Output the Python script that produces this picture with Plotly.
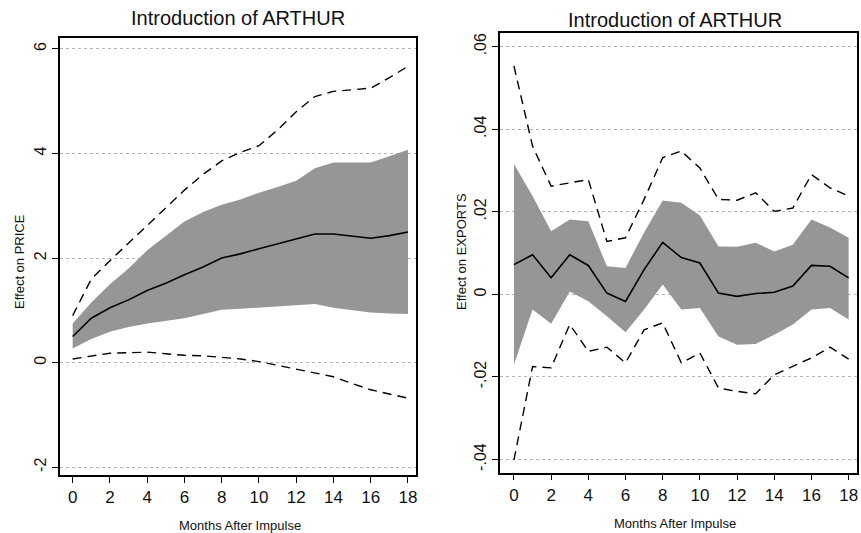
import plotly.graph_objects as go

months = list(range(19))

# Left panel: Effect on PRICE
price_mean = [0.5, 0.85, 1.05, 1.2, 1.38, 1.52, 1.68, 1.83, 2.0, 2.08, 2.18, 2.27, 2.36, 2.46, 2.46, 2.42, 2.38, 2.43, 2.5]
price_band_hi = [0.75, 1.15, 1.5, 1.8, 2.15, 2.42, 2.7, 2.88, 3.02, 3.12, 3.25, 3.36, 3.48, 3.72, 3.83, 3.83, 3.83, 3.95, 4.07]
price_band_lo = [0.27, 0.45, 0.59, 0.68, 0.75, 0.8, 0.85, 0.93, 1.01, 1.03, 1.05, 1.08, 1.1, 1.12, 1.05, 1.0, 0.96, 0.94, 0.93]
price_ci_hi = [0.9, 1.6, 1.95, 2.28, 2.62, 2.96, 3.3, 3.6, 3.86, 4.02, 4.15, 4.45, 4.8, 5.09, 5.19, 5.22, 5.25, 5.45, 5.67]
price_ci_lo = [0.07, 0.13, 0.18, 0.19, 0.2, 0.17, 0.14, 0.13, 0.1, 0.07, 0.02, -0.05, -0.12, -0.19, -0.27, -0.4, -0.52, -0.6, -0.68]

# Right panel: Effect on EXPORTS
exp_mean = [0.0072, 0.0096, 0.004, 0.0096, 0.007, 0.0003, -0.0017, 0.006, 0.0126, 0.0089, 0.0076, 0.0003, -0.0005, 0.0002, 0.0005, 0.002, 0.007, 0.0068, 0.004]
exp_band_hi = [0.0316, 0.0238, 0.0153, 0.0181, 0.0177, 0.0068, 0.0064, 0.015, 0.0227, 0.0222, 0.0191, 0.0116, 0.0115, 0.0125, 0.0104, 0.012, 0.0181, 0.0162, 0.0137]
exp_band_lo = [-0.017, -0.0037, -0.0071, 0.0007, -0.0017, -0.0053, -0.0092, -0.0037, 0.0024, -0.0037, -0.0033, -0.0102, -0.0122, -0.012, -0.0098, -0.0073, -0.0037, -0.0033, -0.0061]
exp_ci_hi = [0.0553, 0.0359, 0.0262, 0.027, 0.0278, 0.0128, 0.0137, 0.023, 0.0331, 0.0347, 0.0306, 0.023, 0.0228, 0.0246, 0.0201, 0.0209, 0.029, 0.0258, 0.0238]
exp_ci_lo = [-0.0401, -0.0175, -0.0178, -0.0073, -0.0138, -0.0128, -0.0166, -0.0086, -0.0069, -0.0166, -0.0142, -0.0227, -0.0235, -0.0241, -0.0195, -0.0175, -0.0154, -0.0128, -0.0157]

x_ticks = [0, 2, 4, 6, 8, 10, 12, 14, 16, 18]
price_ticks = [-2, 0, 2, 4, 6]
price_tick_labels = ["-2", "0", "2", "4", "6"]
exp_ticks = [-0.04, -0.02, 0, 0.02, 0.04, 0.06]
exp_tick_labels = ["-.04", "-.02", "0", ".02", ".04", ".06"]

title_text = "Introduction of ARTHUR"
xtitle = "Months After Impulse"

FONT = "Liberation Sans, Arial, sans-serif"
BAND = "rgb(150,150,150)"
TXT = "#111"

fig = go.Figure()

def add_panel(xa, ya, mean, bhi, blo, chi, clo):
    fig.add_trace(go.Scatter(x=months, y=blo, mode="lines", line=dict(width=0, color=BAND),
                             xaxis=xa, yaxis=ya, showlegend=False, hoverinfo="skip"))
    fig.add_trace(go.Scatter(x=months, y=bhi, mode="lines", line=dict(width=0, color=BAND),
                             fill="tonexty", fillcolor=BAND, xaxis=xa, yaxis=ya, showlegend=False))
    fig.add_trace(go.Scatter(x=months, y=chi, mode="lines", line=dict(color="black", width=1.4, dash="9px,6px"),
                             xaxis=xa, yaxis=ya, showlegend=False))
    fig.add_trace(go.Scatter(x=months, y=clo, mode="lines", line=dict(color="black", width=1.4, dash="9px,6px"),
                             xaxis=xa, yaxis=ya, showlegend=False))
    fig.add_trace(go.Scatter(x=months, y=mean, mode="lines", line=dict(color="black", width=1.6),
                             xaxis=xa, yaxis=ya, showlegend=False))

add_panel("x", "y", price_mean, price_band_hi, price_band_lo, price_ci_hi, price_ci_lo)
add_panel("x2", "y2", exp_mean, exp_band_hi, exp_band_lo, exp_ci_hi, exp_ci_lo)

W, H = 861, 533
common_x = dict(tickmode="array", tickvals=x_ticks, ticks="outside", ticklen=6, tickwidth=1.2,
                tickcolor="black", showgrid=False, zeroline=False, showline=True, linecolor="black",
                linewidth=1.5, mirror=True, tickfont=dict(family=FONT, size=17, color=TXT))
common_y = dict(tickmode="array", ticks="outside", ticklen=6, tickwidth=1.2, tickcolor="black",
                showgrid=True, gridcolor="#b5b5b5", griddash="dot", gridwidth=1, zeroline=False,
                showline=True, linecolor="black", linewidth=1.5, mirror=True, tickangle=-90,
                tickfont=dict(family=FONT, size=16, color=TXT))

fig.update_layout(
    width=W, height=H,
    margin=dict(l=0, r=0, t=0, b=0),
    paper_bgcolor="white", plot_bgcolor="white",
    xaxis=dict(domain=[60 / W, 416 / W], range=[-0.68, 18.43], anchor="y", **common_x),
    yaxis=dict(domain=[1 - 475 / H, 1 - 38 / H], range=[-2.15, 6.21], anchor="x",
               tickvals=price_ticks, ticktext=price_tick_labels, **common_y),
    xaxis2=dict(domain=[500 / W, 857 / W], range=[-0.75, 18.45], anchor="y2", **common_x),
    yaxis2=dict(domain=[1 - 472.7 / H, 1 - 33 / H], range=[-0.0432, 0.0633], anchor="x2",
                tickvals=exp_ticks, ticktext=exp_tick_labels, **common_y),
    annotations=[
        dict(text=title_text, x=238 / W, y=1 - 18 / H, xref="paper", yref="paper", showarrow=False,
             font=dict(family=FONT, size=20, color=TXT), xanchor="center", yanchor="middle"),
        dict(text=title_text, x=675 / W, y=1 - 20 / H, xref="paper", yref="paper", showarrow=False,
             font=dict(family=FONT, size=20, color=TXT), xanchor="center", yanchor="middle"),
        dict(text=xtitle, x=240 / W, y=1 - 525 / H, xref="paper", yref="paper", showarrow=False,
             font=dict(family=FONT, size=13, color=TXT), xanchor="center", yanchor="middle"),
        dict(text=xtitle, x=675 / W, y=1 - 523 / H, xref="paper", yref="paper", showarrow=False,
             font=dict(family=FONT, size=13, color=TXT), xanchor="center", yanchor="middle"),
        dict(text="Effect on PRICE", x=19 / W, y=1 - 262 / H, xref="paper", yref="paper", showarrow=False,
             textangle=-90, font=dict(family=FONT, size=13, color=TXT), xanchor="center", yanchor="middle"),
        dict(text="Effect on EXPORTS", x=461 / W, y=1 - 252 / H, xref="paper", yref="paper", showarrow=False,
             textangle=-90, font=dict(family=FONT, size=13, color=TXT), xanchor="center", yanchor="middle"),
    ],
)

fig.write_html("out.html", config={"displayModeBar": False},
               post_script="document.body.style.margin='0';document.body.style.overflow='hidden';")
